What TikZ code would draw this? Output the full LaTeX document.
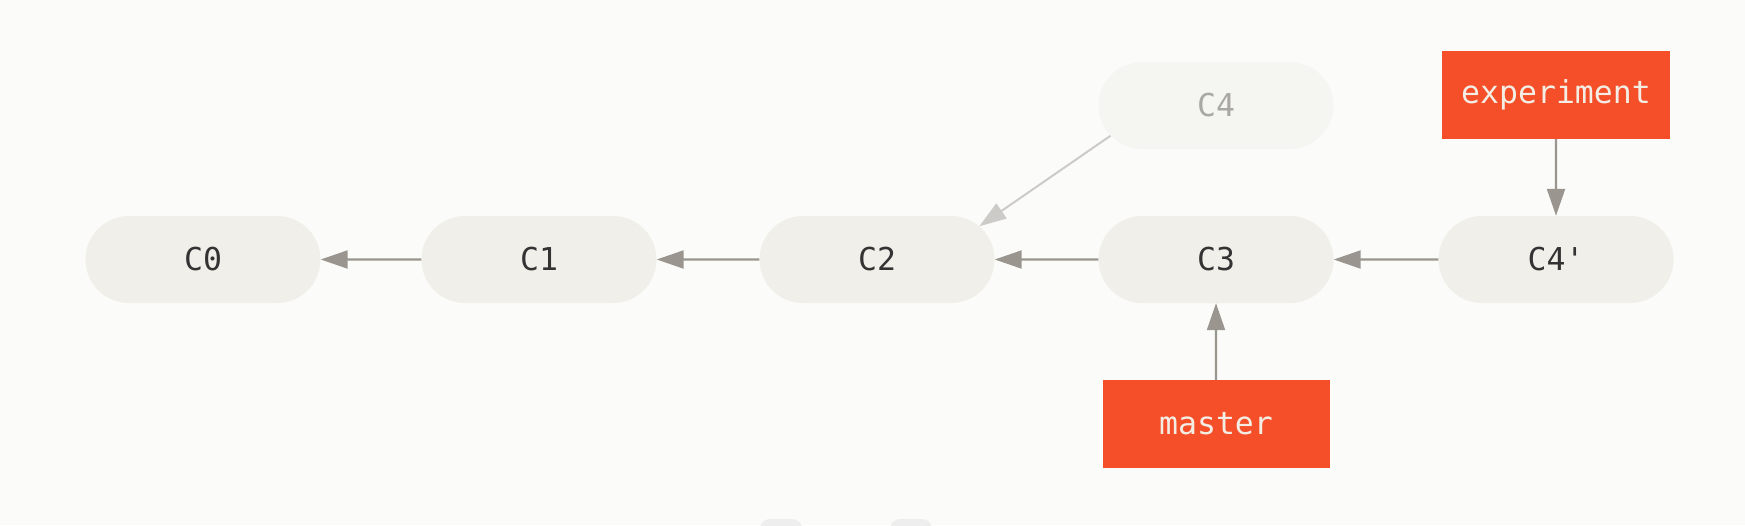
\documentclass[tikz,border=0pt]{standalone}
\usepackage{fontspec}
\setmonofont{DejaVu Sans Mono}
\usetikzlibrary{shapes.misc,arrows.meta}
\definecolor{bg}{HTML}{FBFBF9}
\definecolor{commitfill}{HTML}{F0EFE9}
\definecolor{fadefill}{HTML}{F5F5F1}
\definecolor{fadetext}{HTML}{A9A8A3}
\definecolor{committext}{HTML}{333333}
\definecolor{arrowc}{HTML}{9B958F}
\definecolor{fadeline}{HTML}{CDCBC7}
\definecolor{branchfill}{HTML}{F44F29}
\definecolor{branchtext}{HTML}{F3EDE4}
\definecolor{ghost}{HTML}{EEEEEE}
\begin{document}
\begin{tikzpicture}[x=1pt,y=-1pt,
  commit/.style={rounded rectangle, fill=commitfill, minimum width=235pt, minimum height=87pt, inner sep=0pt, font=\ttfamily\fontsize{31.5}{36}\selectfont, text=committext},
  fadecommit/.style={commit, fill=fadefill, text=fadetext},
  branch/.style={rectangle, fill=branchfill, minimum height=88pt, inner sep=0pt, font=\ttfamily\fontsize{31.5}{36}\selectfont, text=branchtext},
  link/.style={draw=arrowc, line width=2.2pt, -{Triangle[length=27pt,width=18pt]}},
  fadelink/.style={link, draw=fadeline, line width=2pt}]
\fill[bg] (0,0) rectangle (1745,525);
\useasboundingbox (0,0) rectangle (1745,525);
\fill[ghost, rounded corners=10pt] (760,519) rectangle (802,545);
\fill[ghost, rounded corners=10pt] (890,519) rectangle (932,545);
\node[commit] (C0) at (203,259.5) {C0};
\node[commit] (C1) at (539,259.5) {C1};
\node[commit] (C2) at (877,259.5) {C2};
\node[commit] (C3) at (1216,259.5) {C3};
\node[commit] (C4p) at (1556,259.5) {C4'};
\node[fadecommit] (C4) at (1216,105.5) {C4};
\node[branch, minimum width=228pt] (experiment) at (1556,95) {experiment};
\node[branch, minimum width=227pt] (master) at (1216,424) {master};
\draw[link] (C1) -- (C0);
\draw[link] (C2) -- (C1);
\draw[link] (C3) -- (C2);
\draw[link] (C4p) -- (C3);
\draw[fadelink] (C4.196) -- (C2.18);
\draw[link] (experiment) -- (C4p);
\draw[link] (master) -- (C3);
\end{tikzpicture}
\end{document}
